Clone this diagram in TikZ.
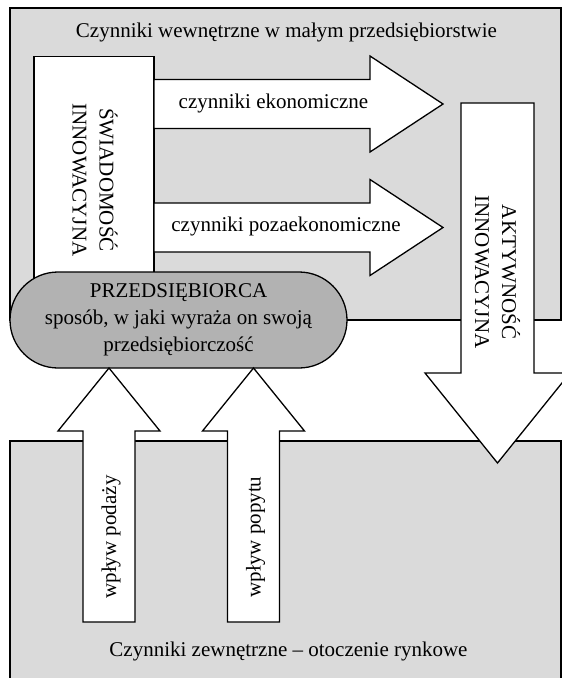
\documentclass[tikz,border=0pt]{standalone}
\usepackage{fontspec}
\setmainfont{Liberation Serif}
\usetikzlibrary{shapes.misc}
\definecolor{boxgray}{HTML}{DADADA}
\definecolor{ovalgray}{HTML}{B2B2B2}
\begin{document}
\begin{tikzpicture}[x=1pt,y=-1pt, line width=1.3pt, line join=miter,
  lbl/.style={font=\fontsize{21}{27}\selectfont, inner sep=0pt, align=center},
  zone/.style={draw=black, fill=boxgray},
  bigarrow/.style={draw=black, fill=white}]
\useasboundingbox (0,0) rectangle (562,678);
\clip (0,0) rectangle (562,678);
\fill[white] (0,0) rectangle (562,678);
% zones
\draw[zone] (10,8) rectangle (561,320);
\draw[zone] (10,441) rectangle (561,700);
\node[lbl] (inner) at (286.5,32) {Czynniki wewnętrzne w małym przedsiębiorstwie};
\node[lbl] (outer) at (288.5,651) {Czynniki zewnętrzne – otoczenie rynkowe};
% awareness box
\draw[bigarrow] (34,56.5) rectangle (154,300);
\node[lbl, rotate=-90] (aware) at (95,180) {ŚWIADOMOŚĆ\\INNOWACYJNA};
% horizontal arrows
\draw[bigarrow] (154,79.5) -- (370,79.5) -- (370,56) -- (443,104) -- (370,152) -- (370,128.5) -- (154,128.5) -- cycle;
\node[lbl] (eco) at (273.5,103) {czynniki ekonomiczne};
\draw[bigarrow] (154,203) -- (370,203) -- (370,179.5) -- (443,227.5) -- (370,275.5) -- (370,252) -- (154,252) -- cycle;
\node[lbl] (noneco) at (286,226.5) {czynniki pozaekonomiczne};
% entrepreneur
\node[draw=black, fill=ovalgray, rounded rectangle, minimum width=337pt, minimum height=96pt, inner sep=0pt] (entre) at (178.5,320) {};
\node[lbl] (entretxt) at (entre.center) {PRZEDSIĘBIORCA\\sposób, w jaki wyraża on swoją\\przedsiębiorczość};
% activity arrow
\draw[bigarrow] (461,103) -- (534,103) -- (534,373) -- (570,373) -- (497.5,463) -- (425,373) -- (461,373) -- cycle;
\node[lbl, rotate=-90] (activity) at (497.5,272) {AKTYWNOŚĆ\\INNOWACYJNA};
% influence arrows
\draw[bigarrow] (83,622) -- (83,431) -- (58,431) -- (109,368) -- (160,431) -- (135,431) -- (135,622) -- cycle;
\node[lbl, rotate=90] (supply) at (111,537) {wpływ podaży};
\draw[bigarrow] (227.5,622) -- (227.5,431) -- (202.5,431) -- (253.5,368) -- (304.5,431) -- (279.5,431) -- (279.5,622) -- cycle;
\node[lbl, rotate=90] (demand) at (255.5,537) {wpływ popytu};
\end{tikzpicture}
\end{document}
